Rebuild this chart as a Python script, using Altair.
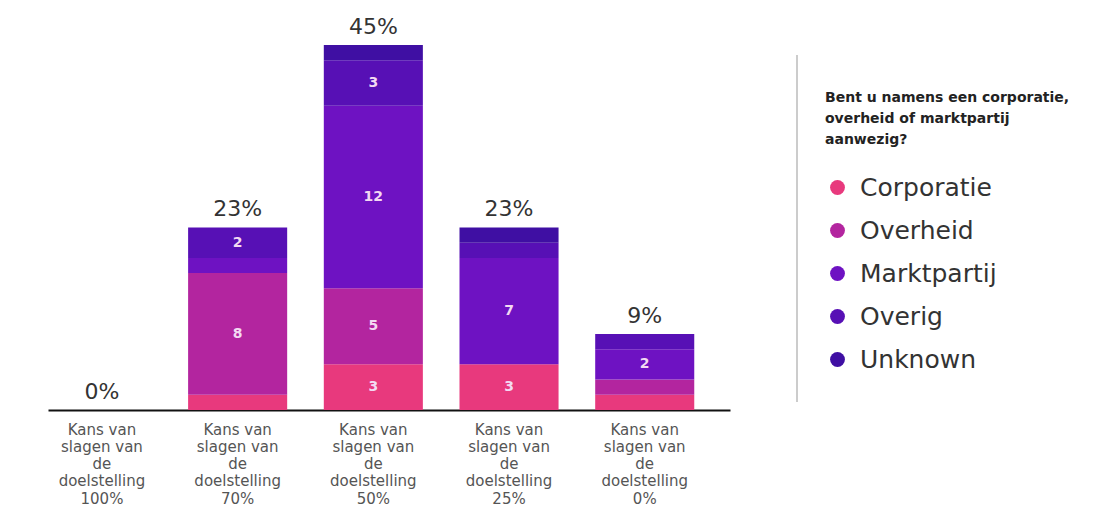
import altair as alt
import pandas as pd

categories = ["100%", "70%", "50%", "25%", "0%"]
groups = ["Corporatie", "Overheid", "Marktpartij", "Overig", "Unknown"]
colors = ["#E8397D", "#B3259F", "#6E12C2", "#5710B5", "#3F0FA3"]

corporatie = [0, 1, 3, 3, 1]
overheid = [0, 8, 5, 0, 1]
marktpartij = [0, 1, 12, 7, 2]
overig = [0, 2, 3, 1, 1]
unknown = [0, 0, 1, 1, 0]

series = [corporatie, overheid, marktpartij, overig, unknown]
rows = []
for gi, (g, vals) in enumerate(zip(groups, series)):
    for c, v in zip(categories, vals):
        rows.append({"cat": c, "group": g, "idx": gi, "count": v})
df = pd.DataFrame(rows)

FONT = "DejaVu Sans"
x_enc = alt.X(
    "cat:N",
    sort=categories,
    scale=alt.Scale(domain=categories, paddingInner=0.27, paddingOuter=0.148, align=0.11),
    axis=alt.Axis(
        title=None,
        labelAngle=0,
        ticks=False,
        domainColor="#111111",
        domainWidth=2,
        labelFontSize=15,
        labelColor="#555555",
        labelLineHeight=17.3,
        labelPadding=12,
        labelFont=FONT,
        labelExpr="['Kans van', 'slagen van', 'de', 'doelstelling', datum.label]",
    ),
)
y_scale = alt.Scale(domain=[0, 26.3])

base = alt.Chart(df)

bars = base.transform_filter("datum.count > 0").mark_bar().encode(
    x=x_enc,
    y=alt.Y("sum(count):Q", stack="zero", scale=y_scale, axis=None),
    color=alt.Color(
        "group:N",
        scale=alt.Scale(domain=groups, range=colors),
        legend=alt.Legend(
            title=["Bent u namens een corporatie,", " overheid of marktpartij", "aanwezig?"],
            titleFontSize=14,
            titleFontWeight="bold",
            titleColor="#222222",
            titleFont=FONT,
            titleLineHeight=21,
            titlePadding=28,
            titleLimit=400,
            labelFontSize=25,
            labelColor="#333333",
            labelFont=FONT,
            labelLimit=300,
            symbolType="circle",
            symbolSize=220,
            symbolStrokeWidth=0,
            rowPadding=17,
            labelOffset=10,
            orient="none",
            legendX=777,
            legendY=81,
        ),
    ),
    order=alt.Order("idx:Q", sort="ascending"),
)

seg_text = (
    base.transform_stack(
        stack="count", groupby=["cat"], as_=["y0", "y1"], sort=[alt.SortField("idx", order="ascending")]
    )
    .transform_calculate(mid="(datum.y0 + datum.y1) / 2")
    .transform_filter("datum.count >= 2")
    .mark_text(fontSize=14, color="#F3D9F2", font=FONT, fontWeight="bold")
    .encode(x=x_enc, y=alt.Y("mid:Q", scale=y_scale, axis=None), text="count:Q")
)

totals = (
    base.transform_aggregate(total="sum(count)", groupby=["cat"])
    .transform_joinaggregate(grand="sum(total)")
    .transform_calculate(pct="format(datum.total / datum.grand * 100, '.0f') + '%'")
    .mark_text(fontSize=22, color="#333333", baseline="alphabetic", dy=-11, font=FONT)
    .encode(x=x_enc, y=alt.Y("total:Q", scale=y_scale, axis=None), text="pct:N")
)

sep = alt.Chart(pd.DataFrame({"a": [0]})).mark_rule(color="#999999", strokeWidth=1).encode(
    x=alt.value(749), y=alt.value(45), y2=alt.value(392)
)

chart = (
    alt.layer(bars, seg_text, totals, sep)
    .properties(
        width=682,
        height=400,
        autosize=alt.AutoSizeParams(type="none"),
        padding={"left": 40, "top": 2, "right": 356, "bottom": 101},
        background="white",
    )
    .configure_view(stroke="transparent", strokeWidth=0)
)

chart.save("out.html", embed_options={"renderer": "svg", "actions": False})
